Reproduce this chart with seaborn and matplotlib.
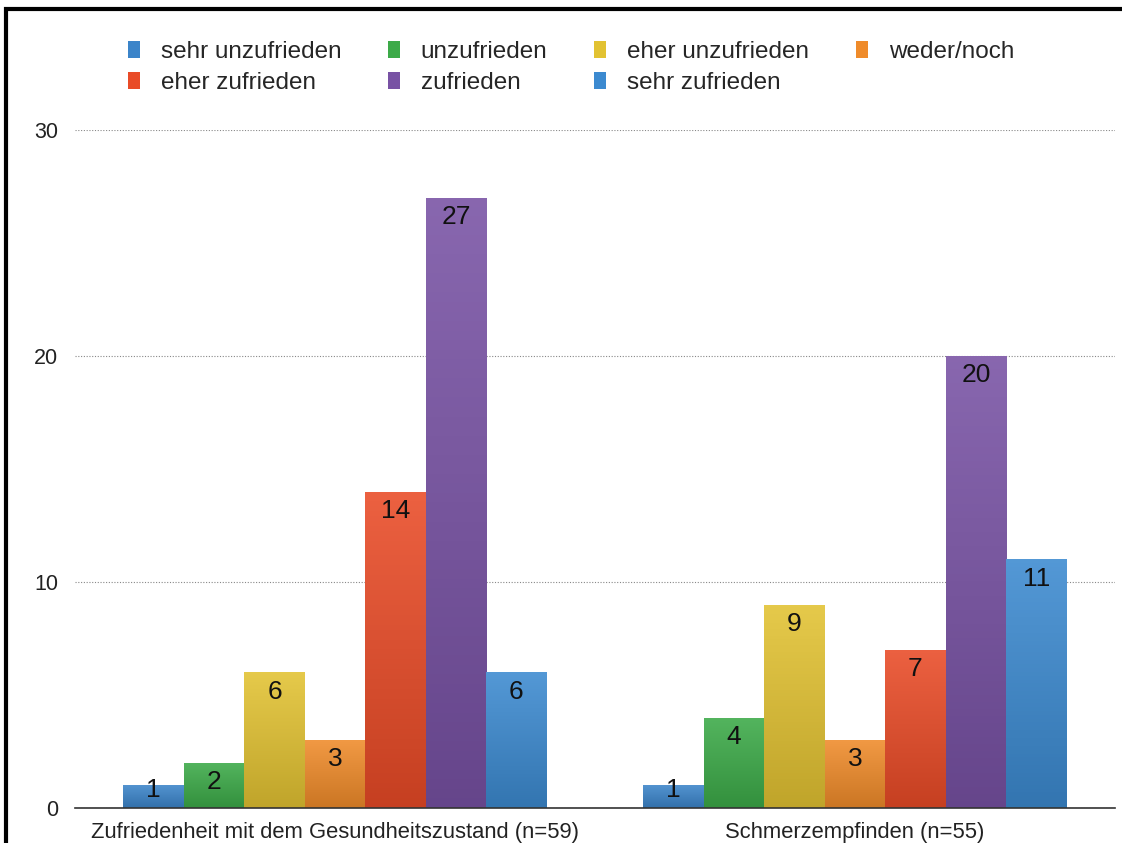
import numpy as np
import pandas as pd
import matplotlib
matplotlib.use("Agg")
import matplotlib.pyplot as plt
import matplotlib.colors as mcolors
from matplotlib.patches import Rectangle, Patch
import seaborn as sns

# --- data ---
items = ["Zufriedenheit mit dem Gesundheitszustand (n=59)", "Schmerzempfinden (n=55)"]
answers = ["sehr unzufrieden", "unzufrieden", "eher unzufrieden", "weder/noch",
           "eher zufrieden", "zufrieden", "sehr zufrieden"]
gesundheit = [1, 2, 6, 3, 14, 27, 6]
schmerz = [1, 4, 9, 3, 7, 20, 11]
colors = ["#3b84c9", "#3caa48", "#e2c232", "#ef8b2a", "#e94b27", "#7852a4", "#3c8ad0"]

df = pd.DataFrame({
    "Item": np.repeat(items, len(answers)),
    "Antwort": answers * len(items),
    "Anzahl": gesundheit + schmerz,
})

sns.set_style("white")
plt.rcParams["font.family"] = ["Liberation Sans", "DejaVu Sans"]

fig = plt.figure(figsize=(11.22, 8.43), dpi=100)
ax = fig.add_axes([0.0668, 0.0415, 0.927, 0.8043])

sns.barplot(data=df, x="Item", y="Anzahl", hue="Antwort", hue_order=answers,
            palette=colors, saturation=1, width=0.814, legend=False, ax=ax)

ax.set_xlim(-0.5, 1.5)
ax.set_ylim(0, 30)
ax.set_yticks([0, 10, 20, 30])
ax.yaxis.grid(True, linestyle=(0, (1, 1.5)), color="#888888", lw=0.8)
ax.set_axisbelow(True)
sns.despine(ax=ax, left=True)
ax.spines["bottom"].set_color("#333333")
ax.spines["bottom"].set_linewidth(1.2)
ax.tick_params(axis="both", length=0, colors="#222222")
ax.tick_params(axis="y", pad=12, labelsize=15.5)
ax.tick_params(axis="x", pad=10, labelsize=15.8)
ax.set_xlabel("")
ax.set_ylabel("")

# gradient fill for each bar (light at top, darker at bottom), plus value label
bars = [p for p in ax.patches if p.get_height() > 0]
for p in bars:
    x0, y0 = p.get_x(), p.get_y()
    w, h = p.get_width(), p.get_height()
    base = np.array(mcolors.to_rgb(p.get_facecolor()))
    top = base + (1 - base) * 0.12
    bottom = base * 0.85
    grad = np.linspace(0, 1, 64)[:, None, None]
    img = top * (1 - grad) + bottom * grad
    im = ax.imshow(img, extent=[x0, x0 + w, y0, y0 + h], aspect="auto",
                   origin="upper", zorder=2)
    im.set_clip_path(p)
    p.set_facecolor("none")
    p.set_edgecolor("none")
    ax.text(x0 + w / 2, max(h - 0.85, 0.8), f"{int(round(h))}",
            ha="center", va="center", fontsize=19, color="#111111", zorder=3)
ax.set_xlim(-0.5, 1.5)
ax.set_ylim(0, 30)

# legend, filled row by row like the original
handles = [Patch(facecolor=c, edgecolor="none") for c in colors]
order = [0, 4, 1, 5, 2, 6, 3]
fig.legend([handles[i] for i in order], [answers[i] for i in order],
           ncol=4, loc="upper left", bbox_to_anchor=(0.114, 0.951),
           frameon=False, fontsize=17.5, handlelength=0.5, handleheight=0.7,
           handletextpad=0.85, columnspacing=1.92, labelspacing=0.36,
           borderaxespad=0, borderpad=0)

# black frame of the screenshot
fig.add_artist(Rectangle((6 / 1122, -0.05), 1.2, 0.05 + 1 - 9 / 843,
                         transform=fig.transFigure, fill=False,
                         edgecolor="black", lw=3))

plt.savefig("out.png", dpi=100)
